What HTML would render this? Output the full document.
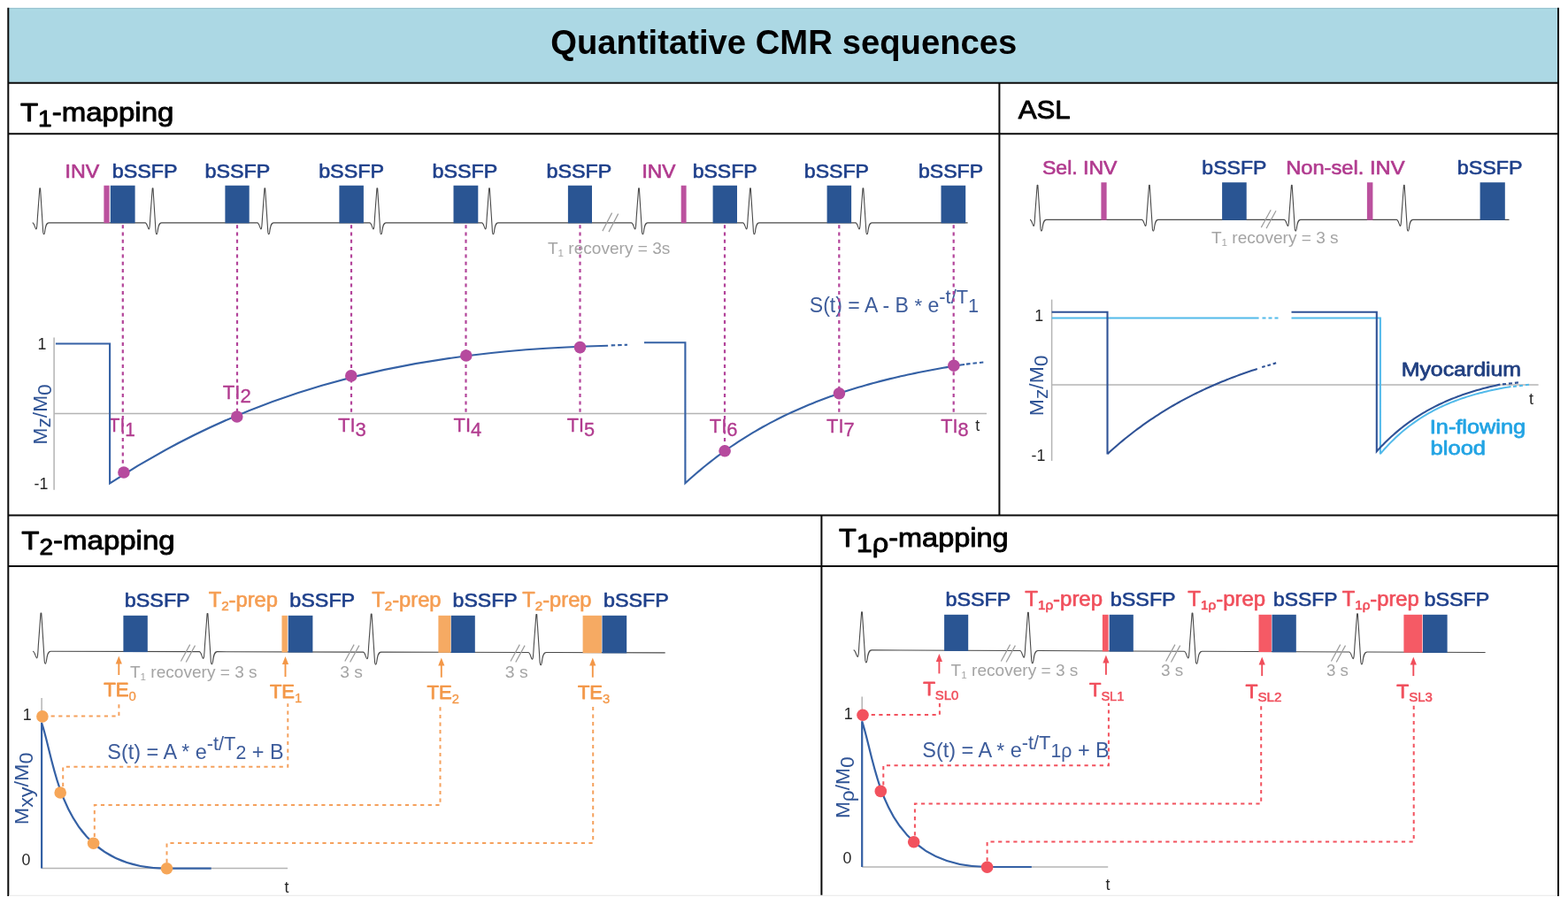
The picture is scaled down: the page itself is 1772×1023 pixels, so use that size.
<!DOCTYPE html><html><head><meta charset="utf-8"><title>Quantitative CMR sequences</title><style>html,body{margin:0;padding:0;background:#fff;width:1772px;height:1023px;overflow:hidden}text{white-space:pre}</style></head><body><svg width="1772" height="1023" viewBox="0 0 1772 1023" font-family='"Liberation Sans", Arial, sans-serif' style="display:block"><rect x="0" y="0" width="1772" height="1023" fill="#ffffff"/>
<rect x="9.3" y="8.8" width="1751.7" height="84.9" fill="#acd8e4"/>
<line x1="9.3" y1="9.7" x2="1761" y2="9.7" stroke="#93bdca" stroke-width="1"/>
<line x1="9.3" y1="11" x2="1761" y2="11" stroke="#afdfe7" stroke-width="1.2"/>
<line x1="9.3" y1="8.8" x2="9.3" y2="1013" stroke="#0a0a0a" stroke-width="2"/>
<line x1="1761" y1="8.8" x2="1761" y2="1013" stroke="#0a0a0a" stroke-width="2"/>
<line x1="9.3" y1="93.7" x2="1761" y2="93.7" stroke="#0a0a0a" stroke-width="2"/>
<line x1="9.3" y1="151.3" x2="1761" y2="151.3" stroke="#0a0a0a" stroke-width="2"/>
<line x1="1129.4" y1="93.7" x2="1129.4" y2="582.4" stroke="#0a0a0a" stroke-width="2"/>
<line x1="9.3" y1="582.4" x2="1761" y2="582.4" stroke="#0a0a0a" stroke-width="2"/>
<line x1="928.4" y1="582.4" x2="928.4" y2="1013" stroke="#0a0a0a" stroke-width="2"/>
<line x1="9.3" y1="640" x2="1761" y2="640" stroke="#0a0a0a" stroke-width="2"/>
<line x1="10.3" y1="1012.4" x2="1760" y2="1012.4" stroke="#ececec" stroke-width="1.3"/>
<g transform="translate(622.27,61) scale(0.97,1)" fill="#000"><text x="0" y="0" font-size="39.4" font-weight="bold">Quantitative</text></g>
<g transform="translate(853.76,61) scale(0.97,1)" fill="#000"><text x="0" y="0" font-size="39.4" font-weight="bold">CMR</text></g>
<g transform="translate(951.75,61) scale(0.97,1)" fill="#000"><text x="0" y="0" font-size="39.4" font-weight="bold">sequences</text></g>
<g transform="translate(22.94,137.3) scale(1.12,1)" fill="#000" stroke="#000" stroke-width="0.9" stroke-linejoin="round"><text x="0" y="0" font-size="29.5">T</text><text x="18.02" y="5.7" font-size="25">1</text><text x="31.93" y="0" font-size="29.5">-mapping</text></g>
<path d="M36.7,251.9 C38.9,251.9 39.6,258.7 40.8,258.9 C41.6,259 42,253.9 42.4,245.9 L44.85,212.7 L45.55,212.7 L48.7,262.4 C49.2,265.5 50,265.5 50.6,262.4 C51.4,255.9 52.2,251.9 55.2,251.9 L164.1,251.9 C166.3,251.9 167,258.7 168.2,258.9 C169,259 169.4,253.9 169.8,245.9 L172.25,212.7 L172.95,212.7 L176.1,262.4 C176.6,265.5 177.4,265.5 178,262.4 C178.8,255.9 179.6,251.9 182.6,251.9 L290.8,251.9 C293,251.9 293.7,258.7 294.9,258.9 C295.7,259 296.1,253.9 296.5,245.9 L298.95,212.7 L299.65,212.7 L302.8,262.4 C303.3,265.5 304.1,265.5 304.7,262.4 C305.5,255.9 306.3,251.9 309.3,251.9 L417.8,251.9 C420,251.9 420.7,258.7 421.9,258.9 C422.7,259 423.1,253.9 423.5,245.9 L425.95,212.7 L426.65,212.7 L429.8,262.4 C430.3,265.5 431.1,265.5 431.7,262.4 C432.5,255.9 433.3,251.9 436.3,251.9 L544.5,251.9 C546.7,251.9 547.4,258.7 548.6,258.9 C549.4,259 549.8,253.9 550.2,245.9 L552.65,212.7 L553.35,212.7 L556.5,262.4 C557,265.5 557.8,265.5 558.4,262.4 C559.2,255.9 560,251.9 563,251.9 L713.5,251.9 C715.7,251.9 716.4,258.7 717.6,258.9 C718.4,259 718.8,253.9 719.2,245.9 L721.65,212.7 L722.35,212.7 L725.5,262.4 C726,265.5 726.8,265.5 727.4,262.4 C728.2,255.9 729,251.9 732,251.9 L839.5,251.9 C841.7,251.9 842.4,258.7 843.6,258.9 C844.4,259 844.8,253.9 845.2,245.9 L847.65,212.7 L848.35,212.7 L851.5,262.4 C852,265.5 852.8,265.5 853.4,262.4 C854.2,255.9 855,251.9 858,251.9 L966.9,251.9 C969.1,251.9 969.8,258.7 971,258.9 C971.8,259 972.2,253.9 972.6,245.9 L975.05,212.7 L975.75,212.7 L978.9,262.4 C979.4,265.5 980.2,265.5 980.8,262.4 C981.6,255.9 982.4,251.9 985.4,251.9 L1093.6,251.9" fill="none" stroke="#4a4a4a" stroke-width="1.1" stroke-linejoin="round"/>
<line x1="680.9" y1="261.1" x2="691.6" y2="240.6" stroke="#9b9b9b" stroke-width="1.2"/>
<line x1="688" y1="262.1" x2="698.7" y2="241.6" stroke="#9b9b9b" stroke-width="1.2"/>
<rect x="117.4" y="209.7" width="6.2" height="42.5" fill="#bb519e"/>
<rect x="769.7" y="209.7" width="5.9" height="42.5" fill="#bb519e"/>
<rect x="124.8" y="209.7" width="27.8" height="42.6" fill="#2a5593"/>
<rect x="254.4" y="209.7" width="27.3" height="42.6" fill="#2a5593"/>
<rect x="383.4" y="209.7" width="27.5" height="42.6" fill="#2a5593"/>
<rect x="512.5" y="209.7" width="27.8" height="42.6" fill="#2a5593"/>
<rect x="641.9" y="209.7" width="27.1" height="42.6" fill="#2a5593"/>
<rect x="805.6" y="209.7" width="27.4" height="42.6" fill="#2a5593"/>
<rect x="934.6" y="209.7" width="27.5" height="42.6" fill="#2a5593"/>
<rect x="1063.5" y="209.7" width="27.7" height="42.6" fill="#2a5593"/>
<g transform="translate(73.45,200.6) scale(1.02,1)" fill="#b13b8f" stroke="#b13b8f" stroke-width="0.65" stroke-linejoin="round"><text x="0" y="0" font-size="22.8">INV</text></g>
<g transform="translate(725.48,200.6) scale(1,1)" fill="#b13b8f" stroke="#b13b8f" stroke-width="0.65" stroke-linejoin="round"><text x="0" y="0" font-size="22.8">INV</text></g>
<g transform="translate(126.75,200.6) scale(1.05,1)" fill="#1f408b" stroke="#1f408b" stroke-width="0.65" stroke-linejoin="round"><text x="0" y="0" font-size="22.2">bSSFP</text></g>
<g transform="translate(231.45,200.6) scale(1.05,1)" fill="#1f408b" stroke="#1f408b" stroke-width="0.65" stroke-linejoin="round"><text x="0" y="0" font-size="22.2">bSSFP</text></g>
<g transform="translate(360.14,200.6) scale(1.05,1)" fill="#1f408b" stroke="#1f408b" stroke-width="0.65" stroke-linejoin="round"><text x="0" y="0" font-size="22.2">bSSFP</text></g>
<g transform="translate(488.45,200.6) scale(1.05,1)" fill="#1f408b" stroke="#1f408b" stroke-width="0.65" stroke-linejoin="round"><text x="0" y="0" font-size="22.2">bSSFP</text></g>
<g transform="translate(617.55,200.6) scale(1.05,1)" fill="#1f408b" stroke="#1f408b" stroke-width="0.65" stroke-linejoin="round"><text x="0" y="0" font-size="22.2">bSSFP</text></g>
<g transform="translate(782.66,200.6) scale(1.04,1)" fill="#1f408b" stroke="#1f408b" stroke-width="0.65" stroke-linejoin="round"><text x="0" y="0" font-size="22.2">bSSFP</text></g>
<g transform="translate(908.85,200.6) scale(1.04,1)" fill="#1f408b" stroke="#1f408b" stroke-width="0.65" stroke-linejoin="round"><text x="0" y="0" font-size="22.2">bSSFP</text></g>
<g transform="translate(1037.95,200.6) scale(1.04,1)" fill="#1f408b" stroke="#1f408b" stroke-width="0.65" stroke-linejoin="round"><text x="0" y="0" font-size="22.2">bSSFP</text></g>
<line x1="61.1" y1="381.4" x2="61.1" y2="553.7" stroke="#b4b4b4" stroke-width="1.5"/>
<line x1="61.1" y1="467.5" x2="1115" y2="467.5" stroke="#b4b4b4" stroke-width="1.5"/>
<g transform="translate(42.45,395) scale(1,1)" fill="#262626"><text x="0" y="0" font-size="17.8">1</text></g>
<g transform="translate(38.49,553) scale(1,1)" fill="#262626"><text x="0" y="0" font-size="17.8">-1</text></g>
<g transform="translate(1102.32,486.8) scale(1,1)" fill="#262626"><text x="0" y="0" font-size="17.8">t</text></g>
<g transform="translate(52.6,502.42) rotate(-90) scale(1.01,1)" fill="#2f5395"><text x="0" y="0" font-size="22.5">M</text><text x="18.75" y="4.8" font-size="22.5">z</text><text x="30" y="0" font-size="22.5">/M</text><text x="54.99" y="5" font-size="22.5">0</text></g>
<g transform="translate(122.84,488.2) scale(0.92,1)" fill="#b13b8f" stroke="#b13b8f" stroke-width="0.35" stroke-linejoin="round"><text x="0" y="0" font-size="22.6">TI</text><text x="20.09" y="4.6" font-size="22.6">1</text></g>
<g transform="translate(251.73,450.7) scale(0.98,1)" fill="#b13b8f" stroke="#b13b8f" stroke-width="0.35" stroke-linejoin="round"><text x="0" y="0" font-size="22.6">TI</text><text x="20.09" y="4.6" font-size="22.6">2</text></g>
<g transform="translate(381.93,488.2) scale(0.98,1)" fill="#b13b8f" stroke="#b13b8f" stroke-width="0.35" stroke-linejoin="round"><text x="0" y="0" font-size="22.6">TI</text><text x="20.09" y="4.6" font-size="22.6">3</text></g>
<g transform="translate(512.53,488.4) scale(0.97,1)" fill="#b13b8f" stroke="#b13b8f" stroke-width="0.35" stroke-linejoin="round"><text x="0" y="0" font-size="22.6">TI</text><text x="20.09" y="4.6" font-size="22.6">4</text></g>
<g transform="translate(640.73,488.4) scale(0.96,1)" fill="#b13b8f" stroke="#b13b8f" stroke-width="0.35" stroke-linejoin="round"><text x="0" y="0" font-size="22.6">TI</text><text x="20.09" y="4.6" font-size="22.6">5</text></g>
<g transform="translate(801.83,488.6) scale(0.97,1)" fill="#b13b8f" stroke="#b13b8f" stroke-width="0.35" stroke-linejoin="round"><text x="0" y="0" font-size="22.6">TI</text><text x="20.09" y="4.6" font-size="22.6">6</text></g>
<g transform="translate(934.03,488.6) scale(0.97,1)" fill="#b13b8f" stroke="#b13b8f" stroke-width="0.35" stroke-linejoin="round"><text x="0" y="0" font-size="22.6">TI</text><text x="20.09" y="4.6" font-size="22.6">7</text></g>
<g transform="translate(1063.23,488.6) scale(0.96,1)" fill="#b13b8f" stroke="#b13b8f" stroke-width="0.35" stroke-linejoin="round"><text x="0" y="0" font-size="22.6">TI</text><text x="20.09" y="4.6" font-size="22.6">8</text></g>
<g transform="translate(914.75,352.6) scale(0.97,1)" fill="#3d5c9b"><text x="0" y="0" font-size="23.8">S(t) = A - B </text><text x="122.35" y="0.5" font-size="23">*</text><text x="131.3" y="0" font-size="23.8"> e</text><text x="151.15" y="-9.6" font-size="22.5">-t/T</text><text x="184.89" y="0" font-size="22.4">1</text></g>
<line x1="138.8" y1="254.2" x2="138.8" y2="534" stroke="#b3449a" stroke-width="2.2" stroke-dasharray="4 4.3"/>
<line x1="268" y1="254.2" x2="268" y2="471" stroke="#b3449a" stroke-width="2.2" stroke-dasharray="4 4.3"/>
<line x1="397" y1="254.2" x2="397" y2="467.5" stroke="#b3449a" stroke-width="2.2" stroke-dasharray="4 4.3"/>
<line x1="526.5" y1="254.2" x2="526.5" y2="467.5" stroke="#b3449a" stroke-width="2.2" stroke-dasharray="4 4.3"/>
<line x1="655.5" y1="254.2" x2="655.5" y2="467.5" stroke="#b3449a" stroke-width="2.2" stroke-dasharray="4 4.3"/>
<line x1="819" y1="254.2" x2="819" y2="509.8" stroke="#b3449a" stroke-width="2.2" stroke-dasharray="4 4.3"/>
<line x1="948.3" y1="254.2" x2="948.3" y2="467.5" stroke="#b3449a" stroke-width="2.2" stroke-dasharray="4 4.3"/>
<line x1="1077.7" y1="254.2" x2="1077.7" y2="467.5" stroke="#b3449a" stroke-width="2.2" stroke-dasharray="4 4.3"/>
<path d="M62.9,388.5 H124.1 V546.3 C266.7,453.1 432.9,396.3 687.1,390.8" fill="none" stroke="#3561a5" stroke-width="2.1" stroke-linejoin="miter"/>
<path d="M690.7,390.4 L709,389.8" fill="none" stroke="#3561a5" stroke-width="2.1" stroke-dasharray="4.5 3"/>
<path d="M728,387.2 H774.4 V546 L774.4,546.17 L778.39,542.52 L782.39,538.96 L786.38,535.48 L790.38,532.08 L794.37,528.75 L798.37,525.5 L802.36,522.33 L806.36,519.22 L810.35,516.19 L814.35,513.23 L818.34,510.33 L822.34,507.5 L826.33,504.74 L830.33,502.04 L834.32,499.4 L838.32,496.82 L842.31,494.29 L846.31,491.83 L850.3,489.42 L854.3,487.07 L858.29,484.77 L862.29,482.52 L866.28,480.32 L870.28,478.17 L874.27,476.08 L878.27,474.03 L882.26,472.02 L886.26,470.06 L890.25,468.15 L894.25,466.28 L898.24,464.45 L902.24,462.67 L906.23,460.92 L910.23,459.22 L914.22,457.55 L918.22,455.92 L922.21,454.33 L926.21,452.77 L930.2,451.25 L934.2,449.77 L938.19,448.32 L942.19,446.9 L946.18,445.51 L950.18,444.16 L954.17,442.83 L958.17,441.54 L962.16,440.28 L966.16,439.04 L970.15,437.83 L974.15,436.65 L978.14,435.5 L982.14,434.37 L986.13,433.27 L990.13,432.19 L994.12,431.14 L998.12,430.12 L1002.11,429.11 L1006.11,428.13 L1010.1,427.17 L1014.1,426.23 L1018.09,425.32 L1022.09,424.42 L1026.08,423.55 L1030.08,422.69 L1034.07,421.86 L1038.07,421.04 L1042.06,420.24 L1046.06,419.46 L1050.05,418.7 L1054.05,417.95 L1058.04,417.23 L1062.04,416.52 L1066.03,415.82 L1070.03,415.14 L1074.02,414.48 L1078.02,413.83 L1082.01,413.2 L1086.01,412.58 L1090,411.97" fill="none" stroke="#3561a5" stroke-width="2.1" stroke-linejoin="miter"/>
<path d="M1092,411.6 L1111.3,409.5" fill="none" stroke="#3561a5" stroke-width="2.1" stroke-dasharray="4.5 3"/>
<circle cx="139.9" cy="534" r="6.8" fill="#b64a9e"/>
<circle cx="267.8" cy="471" r="6.8" fill="#b64a9e"/>
<circle cx="396.8" cy="424.9" r="6.8" fill="#b64a9e"/>
<circle cx="526.8" cy="402" r="6.8" fill="#b64a9e"/>
<circle cx="655.5" cy="392.6" r="6.8" fill="#b64a9e"/>
<circle cx="819.1" cy="509.8" r="6.8" fill="#b64a9e"/>
<circle cx="948.4" cy="444.8" r="6.8" fill="#b64a9e"/>
<circle cx="1077.9" cy="413.2" r="6.8" fill="#b64a9e"/>
<g transform="translate(618.92,287) scale(1.06,1)" fill="#a4a4a4"><text x="0" y="0" font-size="18">T</text><text x="11" y="3.2" font-size="11">1</text><text x="17.12" y="0" font-size="18"> recovery = 3s</text></g>
<g transform="translate(1150.68,133.5) scale(1.06,1)" fill="#000" stroke="#000" stroke-width="0.9" stroke-linejoin="round"><text x="0" y="0" font-size="29.5">ASL</text></g>
<path d="M1164,248.4 C1166.2,248.4 1166.9,255.2 1168.1,255.4 C1168.9,255.5 1169.3,250.4 1169.7,242.4 L1172.15,209.2 L1172.85,209.2 L1176,258.9 C1176.5,262 1177.3,262 1177.9,258.9 C1178.7,252.4 1179.5,248.4 1182.5,248.4 L1290.4,248.4 C1292.6,248.4 1293.3,255.2 1294.5,255.4 C1295.3,255.5 1295.7,250.4 1296.1,242.4 L1298.55,209.2 L1299.25,209.2 L1302.4,258.9 C1302.9,262 1303.7,262 1304.3,258.9 C1305.1,252.4 1305.9,248.4 1308.9,248.4 L1451.3,248.4 C1453.5,248.4 1454.2,255.2 1455.4,255.4 C1456.2,255.5 1456.6,250.4 1457,242.4 L1459.45,209.2 L1460.15,209.2 L1463.3,258.9 C1463.8,262 1464.6,262 1465.2,258.9 C1466,252.4 1466.8,248.4 1469.8,248.4 L1578.3,248.4 C1580.5,248.4 1581.2,255.2 1582.4,255.4 C1583.2,255.5 1583.6,250.4 1584,242.4 L1586.45,209.2 L1587.15,209.2 L1590.3,258.9 C1590.8,262 1591.6,262 1592.2,258.9 C1593,252.4 1593.8,248.4 1596.8,248.4 L1705.5,248.4" fill="none" stroke="#4a4a4a" stroke-width="1.1" stroke-linejoin="round"/>
<line x1="1425.3" y1="257.1" x2="1436.2" y2="237.2" stroke="#9b9b9b" stroke-width="1.2"/>
<line x1="1431.1" y1="258.1" x2="1442" y2="238.2" stroke="#9b9b9b" stroke-width="1.2"/>
<rect x="1244.4" y="206.2" width="6.2" height="42.5" fill="#bb519e"/>
<rect x="1544.9" y="206.2" width="6.5" height="42.5" fill="#bb519e"/>
<rect x="1381.1" y="206.2" width="27.6" height="42.6" fill="#2a5593"/>
<rect x="1672.6" y="206.2" width="28.2" height="42.6" fill="#2a5593"/>
<g transform="translate(1177.97,197.1) scale(1.01,1)" fill="#b13b8f" stroke="#b13b8f" stroke-width="0.65" stroke-linejoin="round"><text x="0" y="0" font-size="22.8">Sel. INV</text></g>
<g transform="translate(1358.35,197.1) scale(1.04,1)" fill="#1f408b" stroke="#1f408b" stroke-width="0.65" stroke-linejoin="round"><text x="0" y="0" font-size="22.2">bSSFP</text></g>
<g transform="translate(1453.14,197.1) scale(1.04,1)" fill="#b13b8f" stroke="#b13b8f" stroke-width="0.65" stroke-linejoin="round"><text x="0" y="0" font-size="22.8">Non-sel. INV</text></g>
<g transform="translate(1646.74,197.1) scale(1.05,1)" fill="#1f408b" stroke="#1f408b" stroke-width="0.65" stroke-linejoin="round"><text x="0" y="0" font-size="22.2">bSSFP</text></g>
<g transform="translate(1368.92,275) scale(1.06,1)" fill="#a4a4a4"><text x="0" y="0" font-size="18">T</text><text x="11" y="3.2" font-size="11">1</text><text x="17.12" y="0" font-size="18"> recovery = 3 s</text></g>
<line x1="1188.6" y1="338.6" x2="1188.6" y2="520.9" stroke="#b4b4b4" stroke-width="1.5"/>
<line x1="1188.6" y1="435.1" x2="1738.6" y2="435.1" stroke="#b4b4b4" stroke-width="1.5"/>
<g transform="translate(1169.15,362.8) scale(1,1)" fill="#262626"><text x="0" y="0" font-size="17.8">1</text></g>
<g transform="translate(1165.59,520.9) scale(1,1)" fill="#262626"><text x="0" y="0" font-size="17.8">-1</text></g>
<g transform="translate(1728.12,457.4) scale(1,1)" fill="#262626"><text x="0" y="0" font-size="17.8">t</text></g>
<g transform="translate(1178.8,470.23) rotate(-90) scale(1.02,1)" fill="#2f5395"><text x="0" y="0" font-size="22.5">M</text><text x="18.75" y="4.8" font-size="22.5">z</text><text x="30" y="0" font-size="22.5">/M</text><text x="54.99" y="5" font-size="22.5">0</text></g>
<path d="M1188.6,359.6 H1422.6" fill="none" stroke="#52baea" stroke-width="2"/>
<path d="M1426.5,359.6 H1445" fill="none" stroke="#52baea" stroke-width="2" stroke-dasharray="4 3"/>
<path d="M1459.5,359.4 H1559.9 V513.6 L1559.9,513.01 L1562.4,510.1 L1564.9,507.28 L1567.41,504.56 L1569.91,501.93 L1572.41,499.38 L1574.91,496.92 L1577.41,494.54 L1579.91,492.24 L1582.42,490.01 L1584.92,487.86 L1587.42,485.78 L1589.92,483.76 L1592.42,481.82 L1594.92,479.94 L1597.43,478.12 L1599.93,476.36 L1602.43,474.66 L1604.93,473.01 L1607.43,471.42 L1609.93,469.88 L1612.44,468.4 L1614.94,466.96 L1617.44,465.57 L1619.94,464.23 L1622.44,462.93 L1624.94,461.67 L1627.45,460.45 L1629.95,459.28 L1632.45,458.14 L1634.95,457.04 L1637.45,455.98 L1639.95,454.95 L1642.46,453.96 L1644.96,453 L1647.46,452.07 L1649.96,451.17 L1652.46,450.3 L1654.96,449.46 L1657.47,448.65 L1659.97,447.87 L1662.47,447.11 L1664.97,446.37 L1667.47,445.66 L1669.97,444.98 L1672.48,444.31 L1674.98,443.67 L1677.48,443.05 L1679.98,442.45 L1682.48,441.87 L1684.98,441.31 L1687.49,440.77 L1689.99,440.24 L1692.49,439.74 L1694.99,439.24 L1697.49,438.77 L1699.99,438.31 L1702.5,437.87 L1705,437.44 L1707.5,437.03" fill="none" stroke="#52baea" stroke-width="2"/>
<path d="M1710,437 L1728,434.8" fill="none" stroke="#52baea" stroke-width="2" stroke-dasharray="4 3"/>
<path d="M1188.6,352.7 H1251.5 V513.5 L1251.5,513.12 L1254.37,510.51 L1257.24,507.94 L1260.11,505.42 L1262.98,502.94 L1265.85,500.51 L1268.72,498.12 L1271.59,495.77 L1274.46,493.46 L1277.33,491.2 L1280.19,488.97 L1283.06,486.78 L1285.93,484.64 L1288.8,482.53 L1291.67,480.46 L1294.54,478.42 L1297.41,476.42 L1300.28,474.46 L1303.15,472.53 L1306.02,470.63 L1308.89,468.77 L1311.76,466.95 L1314.63,465.15 L1317.5,463.39 L1320.37,461.65 L1323.24,459.95 L1326.11,458.28 L1328.98,456.64 L1331.85,455.02 L1334.72,453.44 L1337.58,451.88 L1340.45,450.35 L1343.32,448.85 L1346.19,447.38 L1349.06,445.93 L1351.93,444.51 L1354.8,443.11 L1357.67,441.73 L1360.54,440.39 L1363.41,439.06 L1366.28,437.76 L1369.15,436.48 L1372.02,435.23 L1374.89,433.99 L1377.76,432.78 L1380.63,431.59 L1383.5,430.42 L1386.37,429.27 L1389.24,428.14 L1392.11,427.04 L1394.97,425.95 L1397.84,424.88 L1400.71,423.83 L1403.58,422.8 L1406.45,421.78 L1409.32,420.79 L1412.19,419.81 L1415.06,418.85 L1417.93,417.91 L1420.8,416.98" fill="none" stroke="#2f5296" stroke-width="2.1"/>
<path d="M1426.2,415 L1443.4,410" fill="none" stroke="#2f5296" stroke-width="2.1" stroke-dasharray="3.6 2.9"/>
<path d="M1459.5,352.7 H1555.8 V510 L1555.8,510.19 L1558.16,507.6 L1560.53,505.09 L1562.89,502.65 L1565.26,500.28 L1567.62,497.97 L1569.99,495.73 L1572.35,493.54 L1574.72,491.42 L1577.08,489.36 L1579.44,487.35 L1581.81,485.4 L1584.17,483.5 L1586.54,481.66 L1588.9,479.87 L1591.27,478.12 L1593.63,476.43 L1595.99,474.78 L1598.36,473.17 L1600.72,471.61 L1603.09,470.1 L1605.45,468.62 L1607.82,467.19 L1610.18,465.79 L1612.55,464.44 L1614.91,463.12 L1617.27,461.84 L1619.64,460.59 L1622,459.38 L1624.37,458.2 L1626.73,457.06 L1629.1,455.94 L1631.46,454.86 L1633.83,453.8 L1636.19,452.78 L1638.55,451.78 L1640.92,450.81 L1643.28,449.87 L1645.65,448.96 L1648.01,448.07 L1650.38,447.2 L1652.74,446.36 L1655.11,445.54 L1657.47,444.74 L1659.83,443.97 L1662.2,443.21 L1664.56,442.48 L1666.93,441.77 L1669.29,441.08 L1671.66,440.4 L1674.02,439.75 L1676.38,439.11 L1678.75,438.49 L1681.11,437.89 L1683.48,437.31 L1685.84,436.74 L1688.21,436.19 L1690.57,435.65 L1692.94,435.12 L1695.3,434.62" fill="none" stroke="#2f5296" stroke-width="2.1"/>
<path d="M1698,434.4 L1716,432.4" fill="none" stroke="#2f5296" stroke-width="2.1" stroke-dasharray="4 3"/>
<g transform="translate(1583.74,425) scale(1.14,1)" fill="#203f80" stroke="#203f80" stroke-width="0.75" stroke-linejoin="round"><text x="0" y="0" font-size="21.8">Myocardium</text></g>
<g transform="translate(1615.85,489.8) scale(1.16,1)" fill="#23a4e4" stroke="#23a4e4" stroke-width="0.75" stroke-linejoin="round"><text x="0" y="0" font-size="21.8">In-flowing</text></g>
<g transform="translate(1616.61,514.2) scale(1.17,1)" fill="#23a4e4" stroke="#23a4e4" stroke-width="0.75" stroke-linejoin="round"><text x="0" y="0" font-size="21.8">blood</text></g>
<g transform="translate(24.24,621.1) scale(1.12,1)" fill="#000" stroke="#000" stroke-width="0.9" stroke-linejoin="round"><text x="0" y="0" font-size="29.5">T</text><text x="18.02" y="5.4" font-size="25">2</text><text x="31.93" y="0" font-size="29.5">-mapping</text></g>
<path d="M37.05,736.22 C39.47,736.22 40.24,743.7 41.56,743.92 C42.44,744.03 42.88,738.42 43.32,729.62 L46.02,693.1 L46.78,693.1 L50.25,747.77 C50.8,751.18 51.68,751.18 52.34,747.77 C53.22,740.62 54.1,736.22 57.4,736.22 L225.15,736.67 C227.57,736.67 228.34,744.15 229.66,744.37 C230.54,744.48 230.98,738.87 231.42,730.07 L234.12,693.55 L234.88,693.55 L238.35,748.22 C238.9,751.63 239.78,751.63 240.44,748.22 C241.32,741.07 242.2,736.67 245.5,736.67 L410.35,737.11 C412.77,737.11 413.54,744.59 414.86,744.81 C415.74,744.92 416.18,739.31 416.62,730.51 L419.31,693.99 L420.08,693.99 L423.55,748.66 C424.1,752.07 424.98,752.07 425.64,748.66 C426.52,741.51 427.4,737.11 430.7,737.11 L596.95,737.55 C599.37,737.55 600.14,745.03 601.46,745.25 C602.34,745.36 602.78,739.75 603.22,730.95 L605.91,694.43 L606.68,694.43 L610.15,749.1 C610.7,752.51 611.58,752.51 612.24,749.1 C613.12,741.95 614,737.55 617.3,737.55 L751.7,737.9" fill="none" stroke="#4a4a4a" stroke-width="1.1" stroke-linejoin="round"/>
<line x1="204.4" y1="747.5" x2="214.7" y2="728.6" stroke="#9b9b9b" stroke-width="1.2"/>
<line x1="210.2" y1="748.5" x2="220.5" y2="729.6" stroke="#9b9b9b" stroke-width="1.2"/>
<line x1="389.8" y1="747.5" x2="400.1" y2="728.6" stroke="#9b9b9b" stroke-width="1.2"/>
<line x1="395.6" y1="748.5" x2="405.9" y2="729.6" stroke="#9b9b9b" stroke-width="1.2"/>
<line x1="577" y1="747.5" x2="587.3" y2="728.6" stroke="#9b9b9b" stroke-width="1.2"/>
<line x1="582.8" y1="748.5" x2="593.1" y2="729.6" stroke="#9b9b9b" stroke-width="1.2"/>
<rect x="318.5" y="695.8" width="6.3" height="41.58" fill="#f6aa63"/>
<rect x="495.4" y="695.8" width="14" height="42.02" fill="#f6aa63"/>
<rect x="658.6" y="695.8" width="21.3" height="42.43" fill="#f6aa63"/>
<rect x="139.4" y="695.8" width="27.4" height="41.31" fill="#2a5593"/>
<rect x="325.7" y="695.8" width="27.7" height="41.75" fill="#2a5593"/>
<rect x="509.8" y="695.8" width="27" height="42.19" fill="#2a5593"/>
<rect x="680.5" y="695.8" width="27.7" height="42.6" fill="#2a5593"/>
<g transform="translate(140.84,686.1) scale(1.05,1)" fill="#1f408b" stroke="#1f408b" stroke-width="0.65" stroke-linejoin="round"><text x="0" y="0" font-size="22.2">bSSFP</text></g>
<g transform="translate(327.35,686.1) scale(1.05,1)" fill="#1f408b" stroke="#1f408b" stroke-width="0.65" stroke-linejoin="round"><text x="0" y="0" font-size="22.2">bSSFP</text></g>
<g transform="translate(511.55,686.1) scale(1.04,1)" fill="#1f408b" stroke="#1f408b" stroke-width="0.65" stroke-linejoin="round"><text x="0" y="0" font-size="22.2">bSSFP</text></g>
<g transform="translate(682.05,686.1) scale(1.05,1)" fill="#1f408b" stroke="#1f408b" stroke-width="0.65" stroke-linejoin="round"><text x="0" y="0" font-size="22.2">bSSFP</text></g>
<g transform="translate(235.65,686.1) scale(1.01,1)" fill="#f59d52" stroke="#f59d52" stroke-width="0.65" stroke-linejoin="round"><text x="0" y="0" font-size="23.5">T</text><text x="14.36" y="4.2" font-size="15">2</text><text x="22.7" y="0" font-size="23.5">-prep</text></g>
<g transform="translate(420.25,686.1) scale(1.01,1)" fill="#f59d52" stroke="#f59d52" stroke-width="0.65" stroke-linejoin="round"><text x="0" y="0" font-size="23.5">T</text><text x="14.36" y="4.2" font-size="15">2</text><text x="22.7" y="0" font-size="23.5">-prep</text></g>
<g transform="translate(590.25,686.1) scale(1.01,1)" fill="#f59d52" stroke="#f59d52" stroke-width="0.65" stroke-linejoin="round"><text x="0" y="0" font-size="23.5">T</text><text x="14.36" y="4.2" font-size="15">2</text><text x="22.7" y="0" font-size="23.5">-prep</text></g>
<line x1="134.3" y1="748.4" x2="134.3" y2="763" stroke="#f39747" stroke-width="1.9"/>
<path d="M130.7,750.4 L134.3,741.4 L137.9,750.4 Z" fill="#f39747"/>
<line x1="322.5" y1="749" x2="322.5" y2="765" stroke="#f39747" stroke-width="1.9"/>
<path d="M318.9,751 L322.5,742 L326.1,751 Z" fill="#f39747"/>
<line x1="498.8" y1="750.4" x2="498.8" y2="765.7" stroke="#f39747" stroke-width="1.9"/>
<path d="M495.2,752.4 L498.8,743.4 L502.4,752.4 Z" fill="#f39747"/>
<line x1="669.8" y1="750.4" x2="669.8" y2="765.7" stroke="#f39747" stroke-width="1.9"/>
<path d="M666.2,752.4 L669.8,743.4 L673.4,752.4 Z" fill="#f39747"/>
<g transform="translate(117.13,787.4) scale(1.01,1)" fill="#f39747" stroke="#f39747" stroke-width="0.75" stroke-linejoin="round"><text x="0" y="0" font-size="22">TE</text><text x="28.12" y="4.8" font-size="14.8" stroke-width="0.3">0</text></g>
<g transform="translate(304.93,789) scale(1,1)" fill="#f39747" stroke="#f39747" stroke-width="0.75" stroke-linejoin="round"><text x="0" y="0" font-size="22">TE</text><text x="28.12" y="4.8" font-size="14.8" stroke-width="0.3">1</text></g>
<g transform="translate(482.54,790.4) scale(1,1)" fill="#f39747" stroke="#f39747" stroke-width="0.75" stroke-linejoin="round"><text x="0" y="0" font-size="22">TE</text><text x="28.12" y="4.8" font-size="14.8" stroke-width="0.3">2</text></g>
<g transform="translate(652.93,790.4) scale(1,1)" fill="#f39747" stroke="#f39747" stroke-width="0.75" stroke-linejoin="round"><text x="0" y="0" font-size="22">TE</text><text x="28.12" y="4.8" font-size="14.8" stroke-width="0.3">3</text></g>
<g transform="translate(146.92,765.6) scale(1.06,1)" fill="#a4a4a4"><text x="0" y="0" font-size="18">T</text><text x="11" y="3.2" font-size="11">1</text><text x="17.12" y="0" font-size="18"> recovery = 3 s</text></g>
<g transform="translate(384.23,765.6) scale(1.07,1)" fill="#a4a4a4"><text x="0" y="0" font-size="18">3 s</text></g>
<g transform="translate(570.82,765.6) scale(1.08,1)" fill="#a4a4a4"><text x="0" y="0" font-size="18">3 s</text></g>
<line x1="47.1" y1="789" x2="47.1" y2="981.6" stroke="#b4b4b4" stroke-width="1.5"/>
<line x1="47.1" y1="981.6" x2="325.1" y2="981.6" stroke="#b4b4b4" stroke-width="1.5"/>
<path d="M47.1,981.6 V817 C63.6,865.9 68,981.6 188.5,981.6 H238.7" fill="none" stroke="#3561a5" stroke-width="2.2" stroke-linejoin="miter"/>
<path d="M57.6,809.6 H134.4 V795.3" fill="none" stroke="#f5a15d" stroke-width="2" stroke-dasharray="4.2 4.4"/>
<path d="M71.2,889 V866.8 H325.3 V795.3" fill="none" stroke="#f5a15d" stroke-width="2" stroke-dasharray="4.2 4.4"/>
<path d="M106.8,946 V910.1 H497.5 V795.3" fill="none" stroke="#f5a15d" stroke-width="2" stroke-dasharray="4.2 4.4"/>
<path d="M188.5,975 V953.1 H670.2 V795.3" fill="none" stroke="#f5a15d" stroke-width="2" stroke-dasharray="4.2 4.4"/>
<circle cx="47.9" cy="809.9" r="6.8" fill="#f6a658"/>
<circle cx="68.2" cy="896" r="6.8" fill="#f6a658"/>
<circle cx="105.6" cy="953.3" r="6.8" fill="#f6a658"/>
<circle cx="188.5" cy="981.8" r="6.8" fill="#f6a658"/>
<g transform="translate(25.85,814) scale(1,1)" fill="#262626"><text x="0" y="0" font-size="17.8">1</text></g>
<g transform="translate(24.59,978) scale(1,1)" fill="#262626"><text x="0" y="0" font-size="17.8">0</text></g>
<g transform="translate(321.42,1008.6) scale(1,1)" fill="#262626"><text x="0" y="0" font-size="17.8">t</text></g>
<g transform="translate(32.4,932.37) rotate(-90) scale(1.04,1)" fill="#2f5395"><text x="0" y="0" font-size="22.5">M</text><text x="18.75" y="4.8" font-size="22.5">xy</text><text x="41.25" y="0" font-size="22.5">/M</text><text x="66.24" y="5" font-size="22.5">0</text></g>
<g transform="translate(121.23,857.6) scale(0.99,1)" fill="#3d5c9b"><text x="0" y="0" font-size="23.7">S(t) = A </text><text x="84.96" y="0.5" font-size="23">*</text><text x="93.92" y="0" font-size="23.7"> e</text><text x="113.68" y="-9.3" font-size="22">-t/T</text><text x="146.67" y="0" font-size="21.5">2</text><text x="158.63" y="0" font-size="23.7"> + B</text></g>
<g transform="translate(947.95,618) scale(1.1,1)" fill="#000" stroke="#000" stroke-width="0.9" stroke-linejoin="round"><text x="0" y="0" font-size="29.5">T</text><text x="18.02" y="6.2" font-size="29.5">1ρ</text><text x="51.21" y="0" font-size="29.5">-mapping</text></g>
<path d="M964.65,734.83 C967.07,734.83 967.84,742.31 969.16,742.53 C970.04,742.64 970.48,737.03 970.92,728.23 L973.62,691.71 L974.38,691.71 L977.85,746.38 C978.4,749.79 979.28,749.79 979.94,746.38 C980.82,739.23 981.7,734.83 985,734.83 L1152.55,735.54 C1154.97,735.54 1155.74,743.02 1157.06,743.24 C1157.94,743.35 1158.38,737.74 1158.82,728.94 L1161.52,692.42 L1162.29,692.42 L1165.75,747.09 C1166.3,750.5 1167.18,750.5 1167.84,747.09 C1168.72,739.94 1169.6,735.54 1172.9,735.54 L1338.15,736.25 C1340.57,736.25 1341.34,743.73 1342.66,743.95 C1343.54,744.06 1343.98,738.45 1344.42,729.65 L1347.12,693.13 L1347.88,693.13 L1351.35,747.8 C1351.9,751.21 1352.78,751.21 1353.44,747.8 C1354.32,740.65 1355.2,736.25 1358.5,736.25 L1524.65,736.95 C1527.07,736.95 1527.84,744.43 1529.16,744.65 C1530.04,744.76 1530.48,739.15 1530.92,730.35 L1533.62,693.83 L1534.38,693.83 L1537.85,748.5 C1538.4,751.91 1539.28,751.91 1539.94,748.5 C1540.82,741.35 1541.7,736.95 1545,736.95 L1678.6,737.5" fill="none" stroke="#4a4a4a" stroke-width="1.1" stroke-linejoin="round"/>
<line x1="1131.3" y1="747.5" x2="1141.6" y2="728.6" stroke="#9b9b9b" stroke-width="1.2"/>
<line x1="1137.1" y1="748.5" x2="1147.4" y2="729.6" stroke="#9b9b9b" stroke-width="1.2"/>
<line x1="1317.6" y1="747.5" x2="1327.9" y2="728.6" stroke="#9b9b9b" stroke-width="1.2"/>
<line x1="1323.4" y1="748.5" x2="1333.7" y2="729.6" stroke="#9b9b9b" stroke-width="1.2"/>
<line x1="1504.4" y1="747.5" x2="1514.7" y2="728.6" stroke="#9b9b9b" stroke-width="1.2"/>
<line x1="1510.2" y1="748.5" x2="1520.5" y2="729.6" stroke="#9b9b9b" stroke-width="1.2"/>
<rect x="1245.9" y="694.8" width="6.7" height="41.59" fill="#f55a65"/>
<rect x="1422.5" y="694.8" width="14.4" height="42.29" fill="#f55a65"/>
<rect x="1586.4" y="694.8" width="21" height="42.93" fill="#f55a65"/>
<rect x="1067.1" y="694.8" width="27.1" height="41.09" fill="#2a5593"/>
<rect x="1253.7" y="694.8" width="27.1" height="41.79" fill="#2a5593"/>
<rect x="1437.5" y="694.8" width="27.3" height="42.49" fill="#2a5593"/>
<rect x="1608" y="694.8" width="27.6" height="43.14" fill="#2a5593"/>
<g transform="translate(1068.44,685) scale(1.05,1)" fill="#1f408b" stroke="#1f408b" stroke-width="0.65" stroke-linejoin="round"><text x="0" y="0" font-size="22.2">bSSFP</text></g>
<g transform="translate(1254.85,685) scale(1.05,1)" fill="#1f408b" stroke="#1f408b" stroke-width="0.65" stroke-linejoin="round"><text x="0" y="0" font-size="22.2">bSSFP</text></g>
<g transform="translate(1439.06,685) scale(1.03,1)" fill="#1f408b" stroke="#1f408b" stroke-width="0.65" stroke-linejoin="round"><text x="0" y="0" font-size="22.2">bSSFP</text></g>
<g transform="translate(1609.55,685) scale(1.05,1)" fill="#1f408b" stroke="#1f408b" stroke-width="0.65" stroke-linejoin="round"><text x="0" y="0" font-size="22.2">bSSFP</text></g>
<g transform="translate(1158.25,685) scale(1.02,1)" fill="#f04e5b" stroke="#f04e5b" stroke-width="0.65" stroke-linejoin="round"><text x="0" y="0" font-size="23.5">T</text><text x="14.36" y="4.2" font-size="15">1ρ</text><text x="31.23" y="0" font-size="23.5">-prep</text></g>
<g transform="translate(1342.35,685) scale(1.02,1)" fill="#f04e5b" stroke="#f04e5b" stroke-width="0.65" stroke-linejoin="round"><text x="0" y="0" font-size="23.5">T</text><text x="14.36" y="4.2" font-size="15">1ρ</text><text x="31.23" y="0" font-size="23.5">-prep</text></g>
<g transform="translate(1516.75,685) scale(1.01,1)" fill="#f04e5b" stroke="#f04e5b" stroke-width="0.65" stroke-linejoin="round"><text x="0" y="0" font-size="23.5">T</text><text x="14.36" y="4.2" font-size="15">1ρ</text><text x="31.23" y="0" font-size="23.5">-prep</text></g>
<line x1="1061.4" y1="746" x2="1061.4" y2="761.4" stroke="#f04e5b" stroke-width="1.9"/>
<path d="M1057.8,748 L1061.4,739 L1065,748 Z" fill="#f04e5b"/>
<line x1="1249.9" y1="747.4" x2="1249.9" y2="762.8" stroke="#f04e5b" stroke-width="1.9"/>
<path d="M1246.3,749.4 L1249.9,740.4 L1253.5,749.4 Z" fill="#f04e5b"/>
<line x1="1426.2" y1="749.4" x2="1426.2" y2="764.1" stroke="#f04e5b" stroke-width="1.9"/>
<path d="M1422.6,751.4 L1426.2,742.4 L1429.8,751.4 Z" fill="#f04e5b"/>
<line x1="1597.3" y1="749.4" x2="1597.3" y2="764.1" stroke="#f04e5b" stroke-width="1.9"/>
<path d="M1593.7,751.4 L1597.3,742.4 L1600.9,751.4 Z" fill="#f04e5b"/>
<g transform="translate(1043.13,785.8) scale(1.02,1)" fill="#f04e5b" stroke="#f04e5b" stroke-width="0.75" stroke-linejoin="round"><text x="0" y="0" font-size="22">T</text><text x="13.44" y="4.7" font-size="14.6" stroke-width="0.5">SL0</text></g>
<g transform="translate(1230.94,787.1) scale(1,1)" fill="#f04e5b" stroke="#f04e5b" stroke-width="0.75" stroke-linejoin="round"><text x="0" y="0" font-size="22">T</text><text x="13.44" y="4.7" font-size="14.6" stroke-width="0.5">SL1</text></g>
<g transform="translate(1407.43,788.5) scale(1.04,1)" fill="#f04e5b" stroke="#f04e5b" stroke-width="0.75" stroke-linejoin="round"><text x="0" y="0" font-size="22">T</text><text x="13.44" y="4.7" font-size="14.6" stroke-width="0.5">SL2</text></g>
<g transform="translate(1578.33,788.5) scale(1.03,1)" fill="#f04e5b" stroke="#f04e5b" stroke-width="0.75" stroke-linejoin="round"><text x="0" y="0" font-size="22">T</text><text x="13.44" y="4.7" font-size="14.6" stroke-width="0.5">SL3</text></g>
<g transform="translate(1074.62,763.7) scale(1.06,1)" fill="#a4a4a4"><text x="0" y="0" font-size="18">T</text><text x="11" y="3.2" font-size="11">1</text><text x="17.12" y="0" font-size="18"> recovery = 3 s</text></g>
<g transform="translate(1312.04,763.7) scale(1.05,1)" fill="#a4a4a4"><text x="0" y="0" font-size="18">3 s</text></g>
<g transform="translate(1498.95,763.7) scale(1.04,1)" fill="#a4a4a4"><text x="0" y="0" font-size="18">3 s</text></g>
<line x1="974.2" y1="787.4" x2="974.2" y2="980" stroke="#b4b4b4" stroke-width="1.5"/>
<line x1="974.2" y1="980" x2="1252.2" y2="980" stroke="#b4b4b4" stroke-width="1.5"/>
<path d="M974.2,980 V815.4 C990.7,864.3 995.1,980 1115.6,980 H1165.8" fill="none" stroke="#3561a5" stroke-width="2.2" stroke-linejoin="miter"/>
<path d="M984.7,808 H1061.9 V794.8" fill="none" stroke="#f2525e" stroke-width="2" stroke-dasharray="4.2 4.4"/>
<path d="M998.3,887.4 V865.2 H1252.9 V794.8" fill="none" stroke="#f2525e" stroke-width="2" stroke-dasharray="4.2 4.4"/>
<path d="M1033.9,944.4 V908.5 H1425.2 V794.8" fill="none" stroke="#f2525e" stroke-width="2" stroke-dasharray="4.2 4.4"/>
<path d="M1115.6,973.4 V951.5 H1597.7 V794.8" fill="none" stroke="#f2525e" stroke-width="2" stroke-dasharray="4.2 4.4"/>
<circle cx="975" cy="808.3" r="6.8" fill="#f2525e"/>
<circle cx="995.3" cy="894.4" r="6.8" fill="#f2525e"/>
<circle cx="1032.7" cy="951.7" r="6.8" fill="#f2525e"/>
<circle cx="1115.6" cy="980.2" r="6.8" fill="#f2525e"/>
<g transform="translate(953.85,813.1) scale(1,1)" fill="#262626"><text x="0" y="0" font-size="17.8">1</text></g>
<g transform="translate(952.49,976) scale(1,1)" fill="#262626"><text x="0" y="0" font-size="17.8">0</text></g>
<g transform="translate(1249.62,1006) scale(1,1)" fill="#262626"><text x="0" y="0" font-size="17.8">t</text></g>
<g transform="translate(960,925.12) rotate(-90) scale(1.01,1)" fill="#2f5395"><text x="0" y="0" font-size="22.5">M</text><text x="18.75" y="4.8" font-size="22.5">ρ</text><text x="31.55" y="0" font-size="22.5">/M</text><text x="56.54" y="5" font-size="22.5">0</text></g>
<g transform="translate(1042.23,856.2) scale(0.99,1)" fill="#3d5c9b"><text x="0" y="0" font-size="23.7">S(t) = A </text><text x="84.96" y="0.5" font-size="23">*</text><text x="93.92" y="0" font-size="23.7"> e</text><text x="113.68" y="-9.6" font-size="22">-t/T</text><text x="146.67" y="0" font-size="21.5">1ρ</text><text x="170.86" y="0" font-size="23.7"> + B</text></g></svg></body></html>
